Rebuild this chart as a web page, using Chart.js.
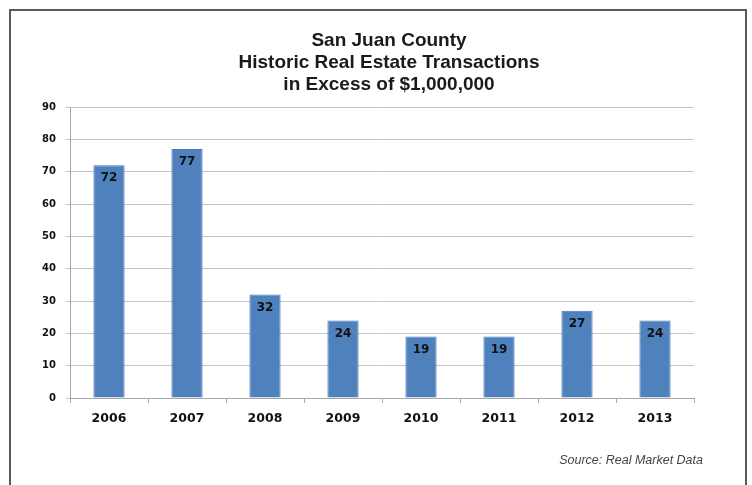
<!DOCTYPE html>
<html>
<head>
<meta charset="utf-8">
<script src="https://cdn.jsdelivr.net/npm/chart.js@4"></script>
<style>
  html, body { margin: 0; padding: 0; background: #fff; }
  #frame {
    position: absolute; left: 9px; top: 9px; width: 734px; height: 490px;
    border: 2px solid #5a5a5a;
  }
  #wrap { position: absolute; left: 0; top: 0; width: 752px; height: 485px; }
</style>
</head>
<body>
<div id="frame"></div>
<div id="wrap"><canvas id="chart_transactions" width="752" height="485"></canvas></div>
<script>
const years = ["2006", "2007", "2008", "2009", "2010", "2011", "2012", "2013"];
const transactions = [72, 77, 32, 24, 19, 19, 27, 24];
const titleLines = ["San Juan County", "Historic Real Estate Transactions", "in Excess of $1,000,000"];
const sourceNote = "Source: Real Market Data";

// title block, bar value labels and the source note
const annotations = {
  id: "annotations",
  afterDatasetsDraw(chart) {
    const ctx = chart.ctx;
    ctx.save();
    ctx.fillStyle = "#111";
    ctx.textAlign = "center";
    ctx.textBaseline = "middle";
    ctx.font = "bold 12px 'DejaVu Sans', Verdana, sans-serif";
    chart.getDatasetMeta(0).data.forEach((bar, i) => {
      ctx.fillText(transactions[i], bar.x, bar.y + 13);
    });
    ctx.fillStyle = "#1a1a1a";
    ctx.font = "bold 19px 'Liberation Sans', Arial, sans-serif";
    titleLines.forEach((line, i) => {
      ctx.fillText(line, 389, 41 + i * 22);
    });
    ctx.fillStyle = "#444";
    ctx.textAlign = "right";
    ctx.font = "italic 12.5px 'Liberation Sans', Arial, sans-serif";
    ctx.fillText(sourceNote, 703, 461);
    ctx.restore();
  }
};

new Chart(document.getElementById("chart_transactions"), {
  type: "bar",
  data: {
    labels: years,
    datasets: [{
      data: transactions,
      backgroundColor: "#4f81bd",
      borderColor: "#4a7ab5",
      borderWidth: 1,
      categoryPercentage: 1,
      barPercentage: 0.4
    }]
  },
  plugins: [annotations],
  options: {
    responsive: false,
    animation: false,
    layout: { padding: { top: 107, right: 58, left: 0, bottom: 0 } },
    plugins: {
      legend: { display: false },
      tooltip: { enabled: false }
    },
    scales: {
      x: {
        grid: { drawOnChartArea: false, drawTicks: true, tickLength: 5, color: "#a6a6a6" },
        border: { color: "#a6a6a6" },
        ticks: {
          padding: 8,
          color: "#111",
          font: { family: "'DejaVu Sans', Verdana, sans-serif", size: 12.5, weight: "bold" }
        },
        afterFit(scale) { scale.height = 87; }
      },
      y: {
        min: 0,
        max: 90,
        grid: { color: "#c6c6c6", tickLength: 4 },
        border: { color: "#a6a6a6" },
        ticks: {
          stepSize: 10,
          padding: 10,
          color: "#111",
          font: { family: "'DejaVu Sans', Verdana, sans-serif", size: 10, weight: "bold" }
        },
        afterFit(scale) { scale.width = 70; }
      }
    }
  }
});
</script>
</body>
</html>
